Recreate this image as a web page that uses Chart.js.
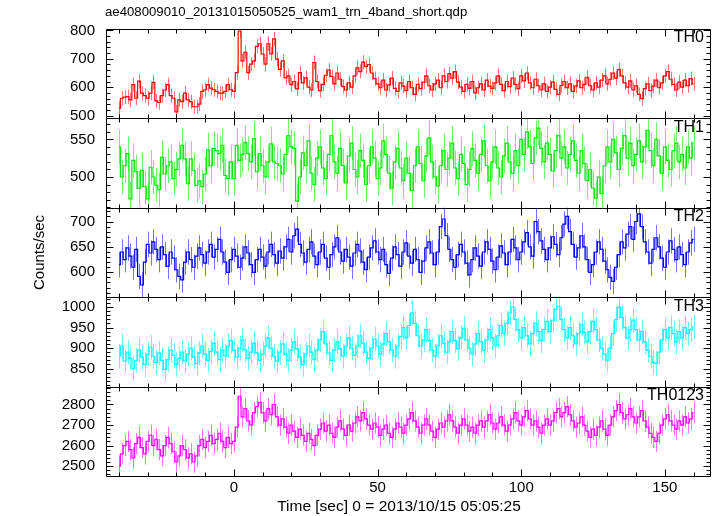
<!DOCTYPE html>
<html>
<head>
<meta charset="utf-8">
<script src="https://cdn.jsdelivr.net/npm/chart.js@4.4.1/dist/chart.umd.min.js"></script>
<style>
  html, body { margin: 0; padding: 0; background: #fff; }
</style>
</head>
<body>
<canvas id="myChart" width="717" height="516"></canvas>
<script>
// light curve, 1 s bins starting at t = -40 s
const timeStart = -40;
const binWidth = 1;

const th0 = [525, 561, 565, 567, 555, 609, 561, 621, 579, 570, 561, 579, 617, 552, 546, 570, 590, 609, 570, 561,
  513, 555, 549, 579, 555, 549, 531, 531, 540, 585, 591, 609, 597, 591, 585, 579, 579, 585, 609, 591,
  585, 651, 798, 693, 723, 651, 681, 693, 744, 753, 717, 681, 753, 717, 770, 699, 663, 693, 633, 640,
  609, 620, 594, 651, 615, 633, 600, 590, 687, 620, 588, 610, 642, 660, 638, 612, 650, 628, 602, 590,
  615, 600, 640, 668, 655, 688, 672, 680, 650, 630, 612, 598, 625, 590, 608, 632, 596, 585, 615, 604,
  588, 620, 598, 575, 610, 595, 618, 640, 605, 590, 612, 625, 598, 640, 620, 648, 632, 655, 618, 600,
  585, 610, 596, 620, 580, 598, 612, 590, 625, 604, 596, 615, 640, 610, 588, 620, 602, 632, 610, 595,
  640, 622, 650, 615, 598, 628, 605, 590, 612, 585, 600, 618, 592, 575, 606, 620, 598, 612, 585, 604,
  622, 598, 610, 635, 605, 590, 615, 600, 625, 640, 612, 628, 650, 632, 662, 640, 615, 600, 622, 590,
  605, 575, 560, 595, 612, 588, 604, 625, 598, 615, 640, 655, 628, 610, 590, 618, 600, 625, 605, 630, 612];

const th1 = [540, 500, 515, 531, 471, 522, 507, 485, 509, 487, 471, 513, 500, 489, 483, 526, 504, 515, 520, 498,
  510, 524, 542, 524, 491, 524, 509, 489, 495, 487, 504, 536, 515, 538, 535, 531, 542, 502, 498, 520,
  498, 542, 522, 530, 546, 531, 520, 551, 507, 531, 515, 500, 520, 544, 520, 518, 515, 504, 530, 555,
  540, 538, 468, 500, 532, 515, 548, 505, 490, 525, 540, 512, 498, 530, 555, 520, 505, 538, 515, 492,
  528, 545, 510, 500, 535, 522, 490, 515, 540, 525, 498, 512, 548, 530, 505, 485, 520, 538, 512, 495,
  525, 505, 482, 515, 540, 518, 495, 528, 552, 520, 500, 488, 515, 535, 510, 525, 545, 512, 498, 530,
  518, 490, 510, 538, 522, 505, 530, 548, 515, 495, 520, 540, 512, 500, 528, 545, 520, 505, 535, 515,
  550, 530, 560, 540, 518, 552, 565, 538, 520, 545, 530, 508, 535, 555, 525, 540, 512, 530, 548, 522,
  505, 535, 518, 495, 510, 485, 472, 500, 478, 515, 540, 520, 550, 532, 510, 538, 555, 525, 545, 515,
  530, 548, 520, 540, 562, 535, 515, 550, 528, 505, 540, 522, 510, 535, 545, 520, 530, 512, 540, 525, 545];

const th2 = [615, 640, 625, 648, 632, 610, 645, 592, 575, 620, 655, 638, 660, 645, 625, 650, 635, 612, 640, 628,
  605, 592, 585, 620, 640, 625, 610, 632, 648, 635, 618, 640, 655, 630, 645, 665, 640, 620, 600, 625,
  645, 632, 610, 628, 650, 638, 615, 600, 625, 645, 630, 612, 640, 655, 635, 618, 642, 628, 650, 665,
  640, 672, 685, 655, 638, 620, 645, 660, 632, 615, 640, 655, 628, 610, 635, 650, 668, 640, 622, 645,
  630, 612, 638, 655, 642, 620, 605, 630, 648, 662, 640, 625, 645, 615, 598, 628, 650, 635, 612, 640,
  658, 632, 618, 645, 625, 600, 622, 648, 660, 638, 615, 640, 690, 705, 672, 645, 625, 610, 635, 655,
  640, 618, 595, 625, 648, 632, 612, 640, 660, 645, 622, 605, 630, 652, 638, 615, 640, 665, 648, 625,
  640, 660, 678, 650, 632, 700, 680, 662, 645, 625, 648, 670, 655, 635, 668, 695, 710, 680, 655, 630,
  648, 672, 650, 625, 600, 615, 640, 660, 645, 622, 605, 590, 582, 610, 635, 660, 648, 675, 690, 665,
  700, 715, 690, 660, 640, 618, 645, 668, 650, 628, 610, 640, 662, 645, 625, 650, 635, 615, 640, 658, 665];

const th3 = [880, 905, 868, 890, 875, 850, 870, 895, 878, 860, 885, 902, 880, 865, 888, 870, 848, 872, 895, 882,
  860, 875, 890, 868, 885, 900, 878, 862, 888, 905, 885, 870, 892, 912, 890, 872, 895, 880, 905, 918,
  895, 878, 900, 920, 895, 875, 890, 912, 888, 870, 885, 905, 925, 900, 880, 868, 890, 910, 885, 870,
  895, 915, 898, 878, 860, 885, 905, 890, 872, 895, 920, 940, 910, 888, 870, 895, 915, 898, 880, 905,
  925, 900, 882, 905, 930, 912, 890, 875, 900, 922, 905, 885, 910, 935, 915, 895, 880, 905, 928, 950,
  925, 955, 985, 960, 930, 905, 920, 945, 918, 895, 880, 905, 930, 912, 890, 915, 940, 918, 898, 925,
  948, 920, 900, 885, 910, 935, 915, 895, 920, 945, 925, 905, 930, 955, 935, 960, 985, 1000, 970, 945,
  925, 950, 930, 910, 935, 960, 940, 918, 945, 965, 940, 968, 995, 1002, 970, 945, 925, 950, 930, 910,
  935, 958, 938, 915, 940, 965, 945, 920, 900, 885, 870, 900, 935, 970, 1000, 975, 950, 925, 945, 968,
  945, 920, 940, 915, 895, 880, 865, 862, 890, 920, 945, 925, 950, 935, 915, 940, 925, 950, 935, 945, 952];

const th0123 = [2500, 2560, 2600, 2620, 2580, 2540, 2610, 2640, 2590, 2560, 2620, 2650, 2600, 2630, 2580, 2550, 2600, 2640, 2610, 2570,
  2520, 2550, 2600, 2580, 2540, 2560, 2520, 2550, 2600, 2630, 2590, 2620, 2650, 2610, 2630, 2660, 2620, 2590, 2640, 2610,
  2620, 2690, 2840, 2740, 2780, 2720, 2700, 2760, 2790, 2810, 2760, 2720, 2780, 2750, 2800, 2740, 2700, 2730, 2690, 2660,
  2700, 2670, 2640, 2680, 2650, 2620, 2660, 2630, 2600, 2650, 2680, 2710, 2670, 2700, 2660, 2640, 2690, 2720, 2680, 2650,
  2700, 2670, 2710, 2740, 2720, 2760, 2730, 2700, 2680, 2710, 2690, 2650, 2680, 2700, 2660, 2640, 2680, 2710, 2690, 2660,
  2700, 2730, 2760, 2720, 2690, 2660, 2700, 2730, 2700, 2670, 2640, 2680, 2710, 2690, 2720, 2750, 2720, 2690, 2660, 2700,
  2730, 2700, 2670, 2690, 2660, 2700, 2720, 2690, 2720, 2750, 2710, 2680, 2710, 2740, 2700, 2670, 2700, 2730, 2760, 2720,
  2700, 2740, 2770, 2730, 2700, 2720, 2690, 2660, 2700, 2730, 2700, 2720, 2760, 2780, 2740, 2760, 2790, 2750, 2720, 2690,
  2710, 2740, 2700, 2670, 2640, 2680, 2650, 2690, 2720, 2680, 2650, 2700, 2740, 2770, 2800, 2760, 2730, 2750, 2780, 2740,
  2710, 2740, 2770, 2720, 2690, 2660, 2640, 2620, 2660, 2700, 2730, 2750, 2720, 2700, 2680, 2720, 2700, 2740, 2710, 2730, 2760];

// half length of the error bars, counts/sec
const errors = [25, 23, 25, 30, 52];
const panelNames = ['TH0', 'TH1', 'TH2', 'TH3', 'TH0123'];
const panelColors = ['#ff0000', '#00ee00', '#0000ff', '#00ffff', '#ff00ff'];
const errColors = ['rgba(255,0,0,0.55)', 'rgba(0,230,0,0.55)', 'rgba(0,0,255,0.55)', 'rgba(0,240,240,0.6)', 'rgba(255,0,255,0.55)'];
const yMins = [490, 459, 551, 806, 2452];
const yMaxs = [805, 578, 727, 1024, 2887];
const yMajor = [100, 50, 50, 50, 100];
const yMinor = [20, 10, 10, 10, 20];
const xMin = -44.5, xMax = 165.7, xMajor = 50, xMinor = 10;

const series = [th0, th1, th2, th3, th0123];
const font = 'Liberation Sans, Arial, Helvetica, sans-serif';

const datasets = series.map((vals, i) => ({
  label: panelNames[i],
  data: vals.map((v, j) => ({ x: timeStart + j * binWidth, y: v })),
  yAxisID: 'y' + i,
  borderColor: panelColors[i],
  borderWidth: 1.2,
  pointRadius: 0,
  stepped: 'middle',
  fill: false
}));

const scales = {
  x: {
    type: 'linear', position: 'bottom', min: xMin, max: xMax,
    grid: { display: false, drawTicks: false }, border: { display: false },
    ticks: {
      stepSize: xMinor, includeBounds: false, autoSkip: false, maxRotation: 0, padding: 3,
      color: '#000', font: { family: font, size: 15 },
      callback: v => (v % xMajor === 0 ? v : '')
    },
    afterFit: s => { s.height = 40; }
  }
};

// stacked axes are laid out bottom-up, so add the lowest panel first
for (let i = panelNames.length - 1; i >= 0; i--) {
  scales['y' + i] = {
    type: 'linear', position: 'left', stack: 'panels', stackWeight: 1, offset: false,
    min: yMins[i], max: yMaxs[i],
    grid: { display: false, drawTicks: false }, border: { display: false },
    ticks: {
      stepSize: yMinor[i], includeBounds: false, autoSkip: false, padding: 11,
      color: '#000', font: { family: font, size: 15 },
      callback: v => (v % yMajor[i] === 0 ? v : '')
    },
    title: { display: i === 2, text: 'Counts/sec', color: '#000',
      font: { family: font, size: 15 }, padding: { top: 31, bottom: 0 } },
    afterFit: s => { s.width = 106; }
  };
}

// QDP style frame: boxes, inward ticks, error bars, labels
const qdpFrame = {
  id: 'qdpFrame',
  beforeDatasetsDraw(chart) {
    const ctx = chart.ctx;
    ctx.save();
    ctx.lineWidth = 1;
    chart.data.datasets.forEach((ds, i) => {
      const meta = chart.getDatasetMeta(i);
      const ys = chart.scales['y' + i];
      ctx.save();
      ctx.beginPath();
      ctx.rect(chart.chartArea.left, ys.top, chart.chartArea.right - chart.chartArea.left, ys.bottom - ys.top);
      ctx.clip();
      ctx.strokeStyle = errColors[i];
      ctx.beginPath();
      meta.data.forEach((pt, j) => {
        const v = ds.data[j].y;
        const x = Math.round(pt.x) + 0.5;
        ctx.moveTo(x, ys.getPixelForValue(v + errors[i]));
        ctx.lineTo(x, ys.getPixelForValue(v - errors[i]));
      });
      ctx.stroke();
      ctx.restore();
    });
    ctx.restore();
  },
  afterDraw(chart) {
    const ctx = chart.ctx;
    const area = chart.chartArea;
    const xs = chart.scales.x;
    ctx.save();
    ctx.strokeStyle = '#000';
    ctx.lineWidth = 1;
    ctx.beginPath();
    panelNames.forEach((name, i) => {
      const ys = chart.scales['y' + i];
      const top = Math.round(ys.top) + 0.5, bottom = Math.round(ys.bottom) + 0.5;
      const left = Math.round(area.left) + 0.5, right = Math.round(area.right) + 0.5;
      ctx.rect(left, top, right - left, bottom - top);
      ys.ticks.forEach(t => {
        const y = Math.round(ys.getPixelForValue(t.value)) + 0.5;
        const len = t.value % yMajor[i] === 0 ? 7 : 4;
        ctx.moveTo(left, y); ctx.lineTo(left + len, y);
        ctx.moveTo(right, y); ctx.lineTo(right - len, y);
      });
      xs.ticks.forEach(t => {
        const x = Math.round(xs.getPixelForValue(t.value)) + 0.5;
        const len = t.value % xMajor === 0 ? 7 : 4;
        ctx.moveTo(x, top); ctx.lineTo(x, top + len);
        ctx.moveTo(x, bottom); ctx.lineTo(x, bottom - len);
      });
    });
    ctx.stroke();

    ctx.fillStyle = '#000';
    ctx.font = '16px ' + font;
    ctx.textAlign = 'right';
    ctx.textBaseline = 'middle';
    panelNames.forEach((name, i) => {
      const ys = chart.scales['y' + i];
      ctx.fillText(name, area.right - 6, ys.top + 9);
    });

    ctx.font = '13.2px ' + font;
    ctx.textAlign = 'left';
    ctx.fillText('ae408009010_20131015050525_wam1_trn_4band_short.qdp', 105, 12);

    ctx.font = '15.5px ' + font;
    ctx.textAlign = 'center';
    ctx.fillText('Time [sec] 0 = 2013/10/15 05:05:25', 399, 507);
    ctx.restore();
  }
};

new Chart(document.getElementById('myChart'), {
  type: 'line',
  data: { datasets },
  options: {
    responsive: false,
    animation: false,
    layout: { padding: { left: 0, right: 7, top: 29, bottom: 0 } },
    scales,
    plugins: { legend: { display: false }, tooltip: { enabled: false }, title: { display: false } }
  },
  plugins: [qdpFrame]
});
</script>
</body>
</html>
